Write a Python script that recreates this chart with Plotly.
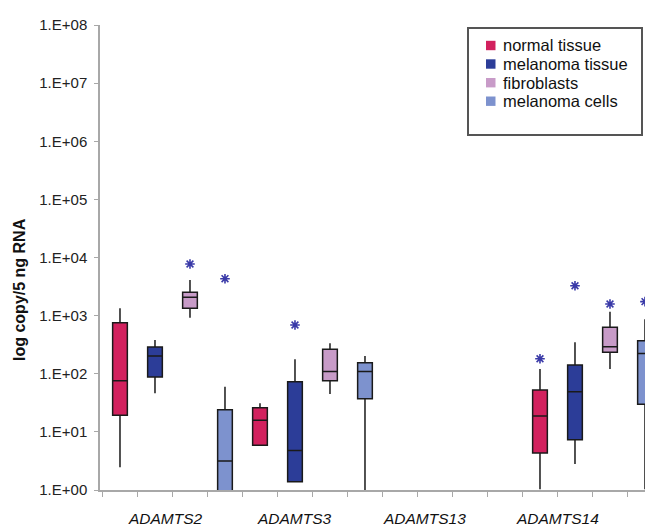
import plotly.graph_objects as go

genes = ["ADAMTS2", "ADAMTS3", "ADAMTS13", "ADAMTS14"]
series = ["normal tissue", "melanoma tissue", "fibroblasts", "melanoma cells"]
colors = ["#D2215E", "#2C3D98", "#C89BC8", "#7D92CE"]

# per series: values per gene (None = no data)
lowerfence = {
    "normal tissue":   [2.46, 5.9, None, 1.03],
    "melanoma tissue": [46, 1.39, None, 2.8],
    "fibroblasts":     [922, 45, None, 121],
    "melanoma cells":  [0.5, 1.0, None, 1.03],
}
q1 = {
    "normal tissue":   [19.3, 5.9, None, 4.33],
    "melanoma tissue": [88, 1.39, None, 7.3],
    "fibroblasts":     [1337, 76, None, 234],
    "melanoma cells":  [0.9, 37, None, 30],
}
median = {
    "normal tissue":   [76, 15.8, None, 18.7],
    "melanoma tissue": [202, 4.8, None, 49],
    "fibroblasts":     [2065, 109, None, 292],
    "melanoma cells":  [3.15, 109, None, 224],
}
q3 = {
    "normal tissue":   [756, 26, None, 52.5],
    "melanoma tissue": [289, 73, None, 141],
    "fibroblasts":     [2520, 263, None, 630],
    "melanoma cells":  [24, 155, None, 371],
}
upperfence = {
    "normal tissue":   [1337, 31, None, 121],
    "melanoma tissue": [380, 177, None, 347],
    "fibroblasts":     [4100, 334, None, 1170],
    "melanoma cells":  [60, 202, None, 864],
}
outliers = {
    "normal tissue":   [None, None, None, 181],
    "melanoma tissue": [None, 690, None, 3270],
    "fibroblasts":     [7730, None, None, 1585],
    "melanoma cells":  [4320, None, None, 1740],
}
ytick_vals = [1, 1e1, 1e2, 1e3, 1e4, 1e5, 1e6, 1e7, 1e8]
ytick_text = ["1.E+00", "1.E+01", "1.E+02", "1.E+03", "1.E+04", "1.E+05", "1.E+06", "1.E+07", "1.E+08"]
label_offsets = [1.29, 1.0, 0.71, 0.5]  # label positions within group (slots)

FONT = "Liberation Sans, Arial, sans-serif"
# plot area in window pixels (page body has an 8px margin)
PX0, PX1, PY0, PY1 = 100, 653, 25, 490
PW, PH = PX1 - PX0, PY1 - PY0

def px(x):
    return (x - PX0) / PW

def py(y):
    return (PY1 - y) / PH

nser = len(series)
fig = go.Figure()
for s, name in enumerate(series):
    xs, lf, a, m, b, uf = [], [], [], [], [], []
    ox, oy = [], []
    for g in range(len(genes)):
        if median[name][g] is None:
            continue
        xs.append(g * nser + s)
        lf.append(lowerfence[name][g]); a.append(q1[name][g]); m.append(median[name][g])
        b.append(q3[name][g]); uf.append(upperfence[name][g])
        if outliers[name][g] is not None:
            ox.append(g * nser + s); oy.append(outliers[name][g])
    fig.add_trace(go.Box(
        x=xs, lowerfence=lf, q1=a, median=m, q3=b, upperfence=uf, name=name,
        fillcolor=colors[s], line=dict(color="#1a1a1a", width=1.5),
        whiskerwidth=0, width=0.42, boxpoints=False, showlegend=False,
        hoverinfo="skip",
    ))
    fig.add_trace(go.Scatter(
        x=ox, y=oy, mode="markers", showlegend=False, name=name + " outliers",
        marker=dict(symbol="asterisk-open", size=8, color="#3A3AA8",
                    line=dict(color="#3A3AA8", width=1.6)),
    ))

annotations = []
for g, gene in enumerate(genes):
    annotations.append(dict(
        x=g * nser + label_offsets[g], y=py(519), xref="x", yref="paper",
        xanchor="center", yanchor="middle",
        text="<i>" + gene + "</i>", showarrow=False,
        font=dict(family=FONT, size=15.5, color="#111"),
    ))
annotations.append(dict(
    x=px(20), y=py(290), xref="paper", yref="paper", text="<b>log copy/5 ng RNA</b>",
    xanchor="center", yanchor="middle",
    showarrow=False, textangle=-90,
    font=dict(family=FONT, size=16, color="#111"),
))

shapes = [dict(
    type="rect", xref="paper", yref="paper",
    x0=px(468), x1=px(642), y0=py(135), y1=py(28),
    line=dict(color="#555", width=2), fillcolor="rgba(0,0,0,0)",
)]
# legend entries (square swatch + label)
legend_rows = [45.5, 64, 82.7, 101.2]
for s, name in enumerate(series):
    yc = legend_rows[s]
    shapes.append(dict(
        type="rect", xref="paper", yref="paper",
        x0=px(486), x1=px(495.5), y0=py(yc + 4.7), y1=py(yc - 4.7),
        line=dict(width=0), fillcolor=colors[s],
    ))
    annotations.append(dict(
        x=px(500.5), y=py(yc), xref="paper", yref="paper",
        xanchor="left", yanchor="middle", text=name, showarrow=False,
        font=dict(family=FONT, size=16.5, color="#111"),
    ))

fig.update_layout(
    width=645, height=520,
    margin=dict(l=PX0 - 8, r=645 - (PX1 - 8), t=PY0 - 8, b=520 - (PY1 - 8)),
    plot_bgcolor="white", paper_bgcolor="white",
    font=dict(family=FONT, size=15, color="#222"),
    showlegend=False,
    xaxis=dict(
        range=[-0.571, 15.229], showgrid=False, zeroline=False,
        showline=True, linecolor="#A8A8A8", linewidth=1.5,
        tickmode="array", tickvals=[i - 0.5 for i in range(17)],
        ticktext=[""] * 17, ticks="outside", ticklen=5, tickcolor="#A8A8A8",
    ),
    yaxis=dict(
        type="log", range=[0, 8], showgrid=False, zeroline=False,
        showline=True, linecolor="#A8A8A8", linewidth=1.5,
        tickmode="array", tickvals=ytick_vals, ticktext=ytick_text,
        ticks="outside", ticklen=4, tickcolor="#A8A8A8",
        ticklabelstandoff=4,
        tickfont=dict(family=FONT, size=15, color="#222"),
    ),
    shapes=shapes,
    annotations=annotations,
)
fig.write_html("out.html")
